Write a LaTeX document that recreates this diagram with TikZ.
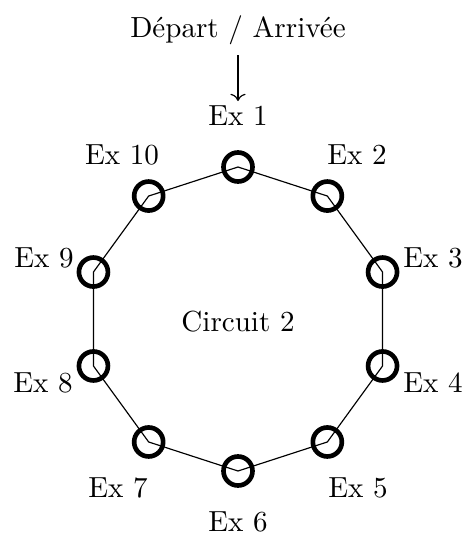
\documentclass[tikz,border=0pt]{standalone}
\usetikzlibrary{arrows.meta}
\begin{document}
\begin{tikzpicture}[x=0.344pt,y=-0.344pt,
  station/.style={circle,draw,line width=1.6pt,minimum size=29*0.344pt,inner sep=0pt},
  track/.style={line width=0.4pt},
  lbl/.style={inner sep=0pt,font=\normalsize}]
\useasboundingbox (0,0) rectangle (462,535);
\foreach \i/\a in {1/90,2/54,3/18,4/-18,5/-54,6/-90,7/-126,8/-162,9/162,10/126}{
  \coordinate (c\i) at ({238+152*cos(\a)},{319-152*sin(\a)});
}
\draw[track] (c1)--(c2)--(c3)--(c4)--(c5)--(c6)--(c7)--(c8)--(c9)--(c10)--cycle;
\foreach \i in {1,...,10}{\node[station] (s\i) at (c\i) {};}
\node[lbl] (l1) at (238,116) {Ex 1};
\node[lbl] (l2) at (357,155) {Ex 2};
\node[lbl] (l3) at (433,258) {Ex 3};
\node[lbl] (l4) at (433,383) {Ex 4};
\node[lbl] (l5) at (358,488) {Ex 5};
\node[lbl] (l6) at (238,522) {Ex 6};
\node[lbl] (l7) at (118,488) {Ex 7};
\node[lbl] (l8) at (43,383) {Ex 8};
\node[lbl] (l9) at (44,258) {Ex 9};
\node[lbl] (l10) at (122,155) {Ex 10};
\node[lbl] (circ) at (238,322) {Circuit 2};
\node[lbl] (start) at (238,30) {Départ / Arrivée};
\coordinate (a0) at (238,55);
\coordinate (a1) at (238,101);
\draw[track,->] (a0) -- (a1);
\end{tikzpicture}
\end{document}
